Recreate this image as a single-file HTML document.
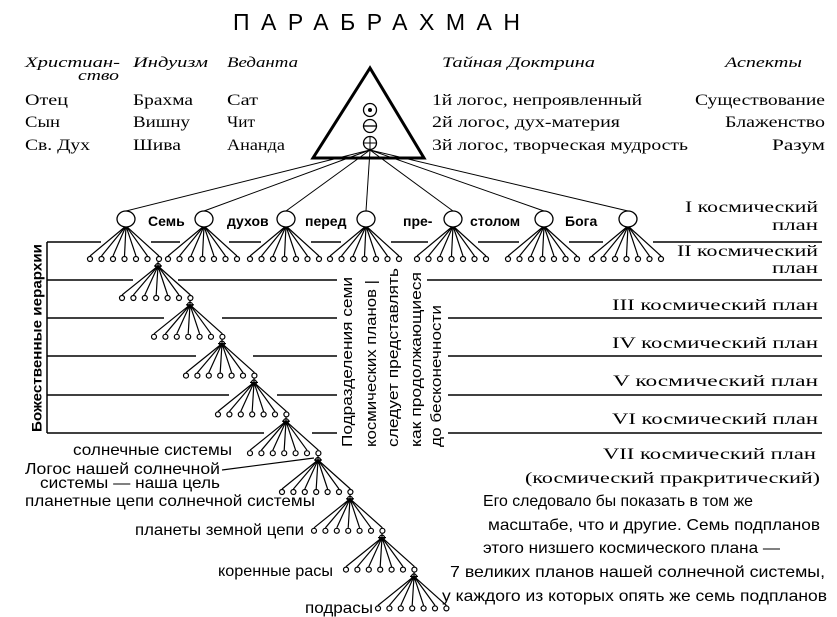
<!DOCTYPE html>
<html><head><meta charset="utf-8"><style>
html,body{margin:0;padding:0;background:#fff;}
svg{display:block}
.s{font-family:"Liberation Serif",serif;}
.i{font-family:"Liberation Serif",serif;font-style:italic;font-size:15px}
.a{font-family:"Liberation Sans",sans-serif;}
</style></head><body>
<svg id="g" width="837" height="617" viewBox="0 0 837 617" xmlns="http://www.w3.org/2000/svg" stroke="#000" fill="none">
<text x="233" y="30" class="a" font-size="23" fill="#000" stroke="none" textLength="287" lengthAdjust="spacing">ПАРАБРАХМАН</text>
<g fill="#000" stroke="none">
<text x="25" y="67" class="i" textLength="95" lengthAdjust="spacingAndGlyphs">Христиан-</text>
<text x="78" y="80" class="i" textLength="41" lengthAdjust="spacingAndGlyphs">ство</text>
<text x="133" y="67" class="i" textLength="75" lengthAdjust="spacingAndGlyphs">Индуизм</text>
<text x="227" y="67" class="i" textLength="71" lengthAdjust="spacingAndGlyphs">Веданта</text>
<text x="442" y="67" class="i" textLength="153" lengthAdjust="spacingAndGlyphs">Тайная Доктрина</text>
<text x="725" y="67" class="i" textLength="77" lengthAdjust="spacingAndGlyphs">Аспекты</text>
<g class="s" font-size="16">
<text x="25" y="105" textLength="43" lengthAdjust="spacingAndGlyphs">Отец</text>
<text x="133" y="105" textLength="60" lengthAdjust="spacingAndGlyphs">Брахма</text>
<text x="227" y="105" textLength="31" lengthAdjust="spacingAndGlyphs">Сат</text>
<text x="432" y="105" textLength="210" lengthAdjust="spacingAndGlyphs">1й логос, непроявленный</text>
<text x="695" y="105" textLength="130" lengthAdjust="spacingAndGlyphs">Существование</text>
<text x="25" y="127" textLength="35" lengthAdjust="spacingAndGlyphs">Сын</text>
<text x="133" y="127" textLength="57" lengthAdjust="spacingAndGlyphs">Вишну</text>
<text x="227" y="127" textLength="28" lengthAdjust="spacingAndGlyphs">Чит</text>
<text x="432" y="127" textLength="188" lengthAdjust="spacingAndGlyphs">2й логос, дух-материя</text>
<text x="725" y="127" textLength="100" lengthAdjust="spacingAndGlyphs">Блаженство</text>
<text x="25" y="150" textLength="65" lengthAdjust="spacingAndGlyphs">Св. Дух</text>
<text x="133" y="150" textLength="48" lengthAdjust="spacingAndGlyphs">Шива</text>
<text x="227" y="150" textLength="58" lengthAdjust="spacingAndGlyphs">Ананда</text>
<text x="432" y="150" textLength="256" lengthAdjust="spacingAndGlyphs">3й логос, творческая мудрость</text>
<text x="772" y="150" textLength="53" lengthAdjust="spacingAndGlyphs">Разум</text>
</g>
<g class="a" font-size="14" font-weight="bold">
<text x="148" y="226">Семь</text><text x="227" y="226">духов</text><text x="305" y="226">перед</text>
<text x="403" y="226">пре-</text><text x="470" y="226">столом</text><text x="565" y="226">Бога</text>
</g>
<g class="s" font-size="16">
<text x="685" y="212" textLength="133" lengthAdjust="spacingAndGlyphs">I космический</text>
<text x="772" y="230" textLength="46" lengthAdjust="spacingAndGlyphs">план</text>
<text x="677" y="256" textLength="141" lengthAdjust="spacingAndGlyphs">II космический</text>
<text x="772" y="273" textLength="46" lengthAdjust="spacingAndGlyphs">план</text>
<text x="612" y="310" textLength="206" lengthAdjust="spacingAndGlyphs">III космический план</text>
<text x="612" y="348" textLength="206" lengthAdjust="spacingAndGlyphs">IV космический план</text>
<text x="613" y="386" textLength="205" lengthAdjust="spacingAndGlyphs">V  космический план</text>
<text x="612" y="424" textLength="206" lengthAdjust="spacingAndGlyphs">VI космический план</text>
<text x="603" y="459" textLength="213" lengthAdjust="spacingAndGlyphs">VII космический план</text>
<text x="525" y="483" textLength="295" lengthAdjust="spacingAndGlyphs">(космический пракритический)</text>
</g>
<g class="a" font-size="16">
<text x="483" y="506" textLength="270" lengthAdjust="spacingAndGlyphs">Его следовало бы показать в том же</text>
<text x="488" y="530" textLength="332" lengthAdjust="spacingAndGlyphs">масштабе, что и другие. Семь подпланов</text>
<text x="483" y="553" textLength="297" lengthAdjust="spacingAndGlyphs">этого низшего космического плана —</text>
<text x="450" y="577" textLength="375" lengthAdjust="spacingAndGlyphs">7 великих планов нашей солнечной системы,</text>
<text x="442" y="601" textLength="385" lengthAdjust="spacingAndGlyphs">у каждого из которых опять же семь подпланов</text>
</g>
<g class="a" font-size="15">
<text x="348" y="447" transform="rotate(-90 348 447)" dominant-baseline="middle" textLength="170" lengthAdjust="spacingAndGlyphs">Подразделения семи</text>
<text x="372" y="447" transform="rotate(-90 372 447)" dominant-baseline="middle" textLength="167" lengthAdjust="spacingAndGlyphs">космических планов |</text>
<text x="394" y="447" transform="rotate(-90 394 447)" dominant-baseline="middle" textLength="179" lengthAdjust="spacingAndGlyphs">следует представлять</text>
<text x="417" y="447" transform="rotate(-90 417 447)" dominant-baseline="middle" textLength="175" lengthAdjust="spacingAndGlyphs">как продолжающиеся</text>
<text x="437" y="447" transform="rotate(-90 437 447)" dominant-baseline="middle" textLength="142" lengthAdjust="spacingAndGlyphs">до бесконечности</text>
<text x="38" y="432" transform="rotate(-90 38 432)" dominant-baseline="middle" font-weight="bold" font-size="14" textLength="188" lengthAdjust="spacingAndGlyphs">Божественные иерархии</text>
</g>
<g class="a" font-size="16">
<text x="73" y="455" textLength="159" lengthAdjust="spacingAndGlyphs">солнечные системы</text>
<text x="25" y="474" textLength="195" lengthAdjust="spacingAndGlyphs">Логос нашей солнечной</text>
<text x="40" y="488" textLength="180" lengthAdjust="spacingAndGlyphs">системы — наша цель</text>
<text x="25" y="506" textLength="290" lengthAdjust="spacingAndGlyphs">планетные цепи солнечной системы</text>
<text x="135" y="535" textLength="169" lengthAdjust="spacingAndGlyphs">планеты земной цепи</text>
<text x="218" y="576" textLength="115" lengthAdjust="spacingAndGlyphs">коренные расы</text>
<text x="305" y="613" textLength="68" lengthAdjust="spacingAndGlyphs">подрасы</text>
</g>
</g>
<polygon points="370,68 313,158 424,158" stroke-width="3"/>
<circle cx="370" cy="110" r="6.5" stroke-width="1.3"/><circle cx="370" cy="110" r="1.5" fill="#000"/>
<circle cx="370" cy="126" r="6.5" stroke-width="1.3"/><line x1="363" y1="126" x2="377" y2="126" stroke-width="1.3"/>
<circle cx="370" cy="143" r="6.5" stroke-width="1.3"/><line x1="363" y1="143" x2="377" y2="143"/><line x1="370" y1="136" x2="370" y2="150"/>
<line x1="222" y1="470" x2="314" y2="458" stroke-width="1.2"/>
<g id="d" stroke-width="1.2"></g>
</svg>
<script>
var d=document.getElementById('d'),h='';
function L(a,b,c,e,w){h+='<line x1="'+a+'" y1="'+b+'" x2="'+c+'" y2="'+e+'"'+(w?' stroke-width="'+w+'"':'')+'/>';}
function C(x,y,r){h+='<circle cx="'+x+'" cy="'+y+'" r="'+r+'" fill="#fff"/>';}
var tops=[126,204,286,366,453,544,628];
tops.forEach(function(x){L(370,150,x,211,1);});
L(47,242,47,433,1.5);
function H(y,segs){for(var i=0;i<segs.length;i+=2)L(segs[i],y,segs[i+1],y,1.5);}
H(242,[47,101,151,180,229,261,311,341,391,428,478,519,569,603,653,822]);
H(280,[47,133,178,337,427,822]);
H(318,[47,164,222,337,448,822]);
H(356,[47,196,253,337,448,822]);
H(395,[47,229,277,337,448,822]);
H(433,[47,264,312,337,448,822]);
tops.forEach(function(cx){
  for(var i=0;i<7;i++){var lx=cx-36+i*11.5;L(cx,226,lx,256);C(lx,259,2.5);}
  h+='<ellipse cx="'+cx+'" cy="219" rx="9" ry="8" fill="#fff" stroke-width="1.3"/>';
});
for(var k=0;k<9;k++){
  var nx=158+32*k,ny=266+38.8*k;
  for(var i=0;i<7;i++){var lx=nx-36+i*11.4,ly=ny+32;L(nx,ny,lx,ly-3);C(lx,ly,2.5);}
  L(nx-4,ny,nx+4,ny);L(nx,ny-4,nx,ny+4);
  h+='<circle cx="'+nx+'" cy="'+ny+'" r="2.5"/>';
}
d.innerHTML=h;
</script>
</body></html>
